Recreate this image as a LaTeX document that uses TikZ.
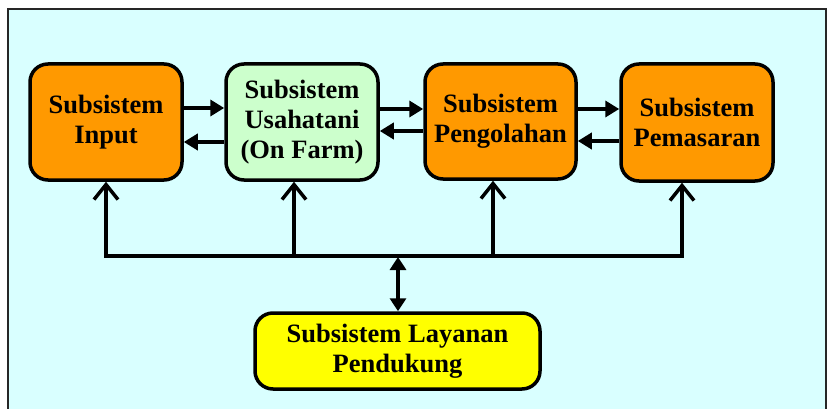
\documentclass[tikz,border=0pt]{standalone}
\usepackage{fontspec}
\setmainfont{Liberation Serif}
\usetikzlibrary{arrows.meta}
\definecolor{bgcyan}{RGB}{217,255,255}
\definecolor{boxorange}{RGB}{255,153,0}
\definecolor{boxgreen}{RGB}{204,255,204}
\definecolor{boxyellow}{RGB}{255,255,0}
\tikzset{
  sbox/.style={draw=black, line width=3.5pt, rounded corners=18pt, align=center,
    font=\fontsize{26.5}{30}\selectfont\bfseries, inner sep=0pt},
  fa/.style={line width=3.5pt, -{Triangle[length=14pt,width=16pt]}},
  da/.style={line width=3.5pt, {Triangle[length=13pt,width=16pt]}-{Triangle[length=13pt,width=16pt]}},
  oa/.style={line width=3.5pt, -{Straight Barb[length=15pt,width=24pt,line width=3.5pt]}},
  bus/.style={line width=3.5pt}
}
\begin{document}
\begin{tikzpicture}[x=1pt,y=-1pt]
\useasboundingbox (0,0) rectangle (829,409);
\fill[white] (0,0) rectangle (829,409);
\draw[fill=bgcyan, draw=black!85, line width=2pt] (8,9) rectangle (826,420);

\node[sbox, fill=boxorange, minimum width=152pt, minimum height=116pt] (in) at (106,122) {Subsistem\\Input};
\node[sbox, fill=boxgreen, minimum width=152pt, minimum height=116pt] (us) at (302,122) {Subsistem\\Usahatani\\(On Farm)};
\node[sbox, fill=boxorange, minimum width=151pt, minimum height=115pt] (pg) at (500.5,121.5) {Subsistem\\Pengolahan};
\node[sbox, fill=boxorange, minimum width=152pt, minimum height=117pt] (pm) at (697,122.5) {Subsistem\\Pemasaran};
\node[sbox, fill=boxyellow, minimum width=285pt, minimum height=76pt] (ly) at (397.5,351) {Subsistem Layanan\\Pendukung};

% horizontal arrows
\draw[fa] (in.east |- 0,108) -- (us.west |- 0,108);
\draw[fa] (us.west |- 0,142) -- (in.east |- 0,142);
\draw[fa] (us.east |- 0,109) -- (pg.west |- 0,109);
\draw[fa] (pg.west |- 0,131) -- (us.east |- 0,131);
\draw[fa] (pg.east |- 0,109) -- (pm.west |- 0,109);
\draw[fa] (pm.west |- 0,141) -- (pg.east |- 0,141);

% bus
\coordinate (busL) at (104,256);
\coordinate (busR) at (684,256);
\draw[bus] (busL) -- (busR);
\draw[oa] (106,256) -- (in.south -| 106,0);
\draw[oa] (294,256) -- (us.south -| 294,0);
\draw[oa] (493,256) -- (pg.south -| 493,0);
\draw[oa] (682,256) -- (pm.south -| 682,0);

\coordinate (busM) at (398,257);
\draw[da] (busM) -- (ly.north -| busM);
\end{tikzpicture}
\end{document}
